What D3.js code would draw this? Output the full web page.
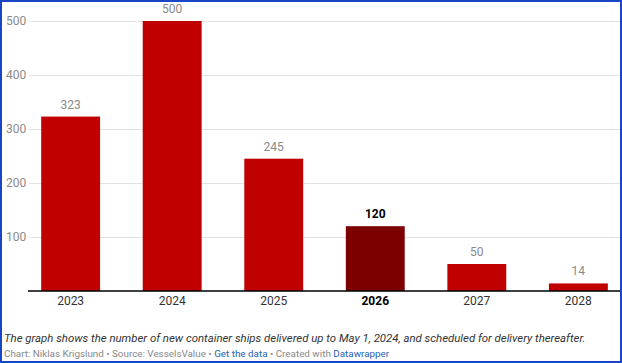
<!DOCTYPE html>
<html>
<head>
<meta charset="utf-8">
<script src="https://cdn.jsdelivr.net/npm/d3@7"></script>
<style>
  body { margin: 0; background: #fff; font-family: Roboto, sans-serif; }
  #frame { position: absolute; left: 0; top: 0; width: 618px; height: 359px; border: 2px solid #1a45c6; }
</style>
</head>
<body>
<div id="frame"></div>
<svg id="chart" width="622" height="363" style="position:absolute;left:0;top:0"></svg>
<script>
// data
var years = ["2023", "2024", "2025", "2026", "2027", "2028"];
var ships = [323, 500, 245, 120, 50, 14];
var highlight = "2026";
var yTicks = [100, 200, 300, 400, 500];

var svg = d3.select("#chart");
let plotTop = 21, plotBottom = 291;
let plotLeft = 29, plotRight = 620;

var x = d3.scaleBand().domain(years).range([plotLeft, plotRight])
    .paddingInner(0.42).paddingOuter(0.12);
var y = d3.scaleLinear().domain([0, 500]).range([plotBottom, plotTop]);

// grid + y labels
svg.append("g").selectAll("line").data(yTicks).enter().append("line")
    .attr("x1", plotLeft).attr("x2", plotRight)
    .attr("y1", d => Math.round(y(d)) + 0.5).attr("y2", d => Math.round(y(d)) + 0.5)
    .attr("stroke", "#e2e2e2");
svg.append("g").selectAll("text").data(yTicks).enter().append("text")
    .attr("x", 6).attr("y", d => y(d) + 4)
    .attr("font-size", 12).attr("fill", "#8a8a8a")
    .text(d => d);

// bars
var data = years.map((yr, i) => ({ year: yr, value: ships[i] }));
svg.append("g").selectAll("rect").data(data).enter().append("rect")
    .attr("x", d => x(d.year)).attr("width", x.bandwidth())
    .attr("y", d => y(d.value)).attr("height", d => y(0) - y(d.value))
    .attr("fill", d => d.year == highlight ? "#7d0000" : "#c00000");

// value labels
svg.append("g").selectAll("text").data(data).enter().append("text")
    .attr("x", d => x(d.year) + x.bandwidth() / 2).attr("y", d => y(d.value) - 8)
    .attr("text-anchor", "middle").attr("font-size", 12)
    .attr("font-weight", d => d.year == highlight ? "bold" : null)
    .attr("fill", d => d.year == highlight ? "#000" : "#8a8a8a")
    .text(d => d.value);

// baseline
svg.append("line").attr("x1", plotLeft - 1).attr("x2", plotRight)
    .attr("y1", plotBottom).attr("y2", plotBottom)
    .attr("stroke", "#000").attr("stroke-width", 1.5);

// x labels
svg.append("g").selectAll("text").data(years).enter().append("text")
    .attr("x", d => x(d) + x.bandwidth() / 2).attr("y", 305)
    .attr("text-anchor", "middle").attr("font-size", 12)
    .attr("font-weight", d => d == highlight ? "bold" : null)
    .attr("fill", d => d == highlight ? "#000" : "#333")
    .text(d => d);

// footer
svg.append("text").attr("x", 4).attr("y", 342)
    .attr("font-size", 11.4).attr("font-style", "italic").attr("fill", "#333")
    .text("The graph shows the number of new container ships delivered up to May 1, 2024, and scheduled for delivery thereafter.");

var credit = svg.append("text").attr("x", 4).attr("y", 357)
    .attr("font-size", 9.85).attr("fill", "#888");
credit.append("tspan").text("Chart: Niklas Krigslund • Source: VesselsValue • ");
credit.append("tspan").attr("fill", "#1d64b5").text("Get the data");
credit.append("tspan").text(" • Created with ");
credit.append("tspan").attr("fill", "#1d64b5").text("Datawrapper");
</script>
</body>
</html>
